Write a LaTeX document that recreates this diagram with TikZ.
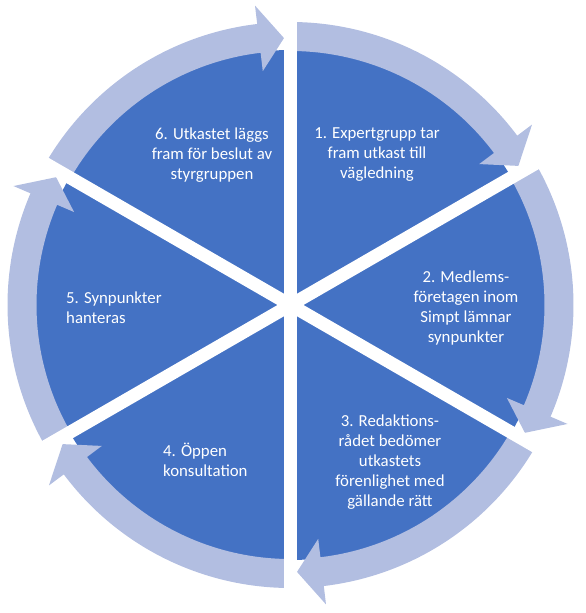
\documentclass[tikz,border=0pt]{standalone}
\usepackage{fontspec}
\setmainfont{Carlito}
\definecolor{pieblue}{HTML}{4472C4}
\definecolor{ringblue}{RGB}{178,190,225}
\tikzset{
  lbl/.style={text=white, font=\fontsize{16.8}{20}\selectfont, inner sep=0pt},
  gapline/.style={white, line width=13},
}
\newcommand{\cyclearrow}[2]{%
  % #1 start angle, #2 end angle (clockwise, #2 = #1 - 60)
  \pgfmathsetmacro{\hb}{#2+6.76}%
  \pgfmathsetmacro{\tp}{#2+1.4}%
  \fill[ringblue] (#1:283) arc[start angle=#1, end angle=\hb, radius=283]
    -- (\hb:301.5) -- (\tp:267) -- (\hb:235.5) -- (\hb:254)
    arc[start angle=\hb, end angle=#1, radius=254] -- cycle;
}
\begin{document}
\begin{tikzpicture}[x=1pt,y=1pt]
\useasboundingbox (0,0) rectangle (586,-613);
\begin{scope}[shift={(290.5,-305)}]
  \coordinate (C) at (0,0);
  \fill[pieblue] (C) circle (255);
  \cyclearrow{90}{30}
  \cyclearrow{30}{-30}
  \cyclearrow{-30}{-90}
  \cyclearrow{-90}{-150}
  \cyclearrow{-150}{-210}
  \cyclearrow{150}{90}
  \foreach \a in {90,30,-30,-90,-150,150}
    \draw[gapline] (C) -- (\a:295);
\end{scope}
\node[lbl, align=center] (t1) at (377,-155) {1. Expertgrupp tar\\fram utkast till\\vägledning};
\node[lbl, align=center] (t2) at (466,-308) {2. Medlems-\\företagen inom\\Simpt lämnar\\synpunkter};
\node[lbl, align=center] (t3) at (390,-462) {3. Redaktions-\\rådet bedömer\\utkastets\\förenlighet med\\gällande rätt};
\node[lbl, align=left, anchor=west] (t4) at (163,-460) {4. Öppen\\konsultation};
\node[lbl, align=left, anchor=west] (t5) at (66,-308) {5. Synpunkter\\hanteras};
\node[lbl, align=center] (t6) at (212,-155) {6. Utkastet läggs\\fram för beslut av\\styrgruppen};
\end{tikzpicture}
\end{document}
